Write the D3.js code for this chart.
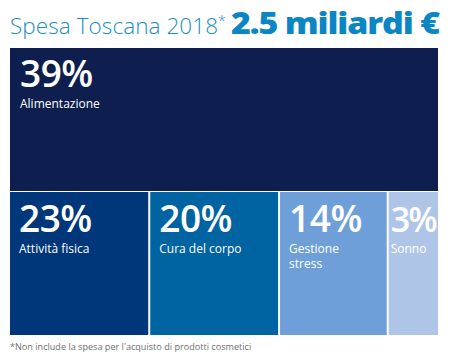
<!DOCTYPE html>
<html><head><meta charset="utf-8">
<script src="https://cdn.jsdelivr.net/npm/d3@7"></script>
<style>body{margin:0;background:#fff}svg{display:block}</style>
</head><body>
<svg id="c" width="450" height="358"></svg>
<script>
const titleLight = "Spesa Toscana 2018";
const titleBold = "2.5 miliardi €";
const footnote = "*Non include la spesa per l'acquisto di prodotti cosmetici";
const categories = ["Alimentazione","Attività fisica","Cura del corpo","Gestione stress","Sonno"];
const shares = [39, 23, 20, 14, 3];
const rows = [0, 1, 1, 1, 1];
const colors = ["#0e1f4f","#00367a","#0063a2","#6e9fd8","#afc5e7"];

(function(){
const svg = d3.select("#c");
const L = 10, R = 438, T = 48, B = 335;

// title
const t = svg.append("text").attr("x", 10).attr("y", 34);
t.append("tspan").text(titleLight)
  .attr("font-family","Open Sans").attr("font-weight",300).attr("font-size",22.5)
  .attr("fill","#1b8ec4").attr("textLength",208);
t.append("tspan").text("*").attr("dy",-8)
  .attr("font-family","Open Sans").attr("font-weight",300).attr("font-size",14).attr("fill","#1b8ec4");
svg.append("text").attr("x",231).attr("y",34).text(titleBold)
  .attr("font-family","Open Sans").attr("font-weight",800).attr("font-size",30)
  .attr("letter-spacing",-1)
  .attr("fill","#0a86c4").attr("textLength",208).attr("lengthAdjust","spacingAndGlyphs");

// rows
const y = d3.scaleBand().domain([0,1]).range([T, B]).paddingInner(0.007);
const data = categories.map((c,i)=>({cat:c, v:shares[i], row:rows[i], color:colors[i]}));
const rowData = d3.groups(data, d=>d.row);
const cells = [];
rowData.forEach(([r, items])=>{
  const total = d3.sum(items, d=>Math.sqrt(d.v));
  const x = d3.scaleLinear().domain([0,total]).range([L,R]);
  let acc = 0;
  items.forEach(d=>{
    const x0 = x(acc); acc += Math.sqrt(d.v); const x1 = x(acc);
    cells.push({...d, x0: x0 + (x0>L?1:0), x1: x1 - (x1<R?1:0), y0: y(r), y1: y(r)+y.bandwidth()});
  });
});

const g = svg.selectAll("g.cell").data(cells).join("g").attr("class","cell");
g.append("rect").attr("x",d=>d.x0).attr("y",d=>d.y0)
  .attr("width",d=>d.x1-d.x0).attr("height",d=>d.y1-d.y0).attr("fill",d=>d.color);
const pad = d=> (d.x1-d.x0)<70 ? 2 : (d.row===0?10:9);
g.append("text").attr("x",d=>d.x0+pad(d)).attr("y",d=>d.y0+(d.row===0?38.7:40))
  .text(d=>d.v+"%").attr("fill","#fff")
  .attr("font-family","Open Sans").attr("font-weight",600)
  .attr("font-size",d=>(d.x1-d.x0)<70 ? 34 : 37)
  .attr("letter-spacing",d=>(d.x1-d.x0)<70 ? -2 : -0.5);
g.each(function(d){
  const w = d.x1-d.x0;
  const tx = d3.select(this).append("text").attr("fill","#fff")
    .attr("font-family","Open Sans").attr("font-weight",400).attr("font-size",12);
  const probe = tx.append("tspan").text(d.cat);
  const tooWide = probe.node().getComputedTextLength() > w - 2*pad(d) - 8;
  probe.remove();
  const lines = (tooWide && d.cat.includes(" ")) ? d.cat.split(" ") : [d.cat];
  const off = d.row===0 ? 59.5 : 61;
  lines.forEach((l,i)=>tx.append("tspan").attr("x",d.x0+pad(d)).attr("y",d.y0+off+i*14.5).text(l));
});

svg.append("text").attr("x",10).attr("y",350).text(footnote)
  .attr("font-family","Open Sans").attr("font-size",9.1).attr("fill","#6f6f6f");
})();
</script>
</body></html>
